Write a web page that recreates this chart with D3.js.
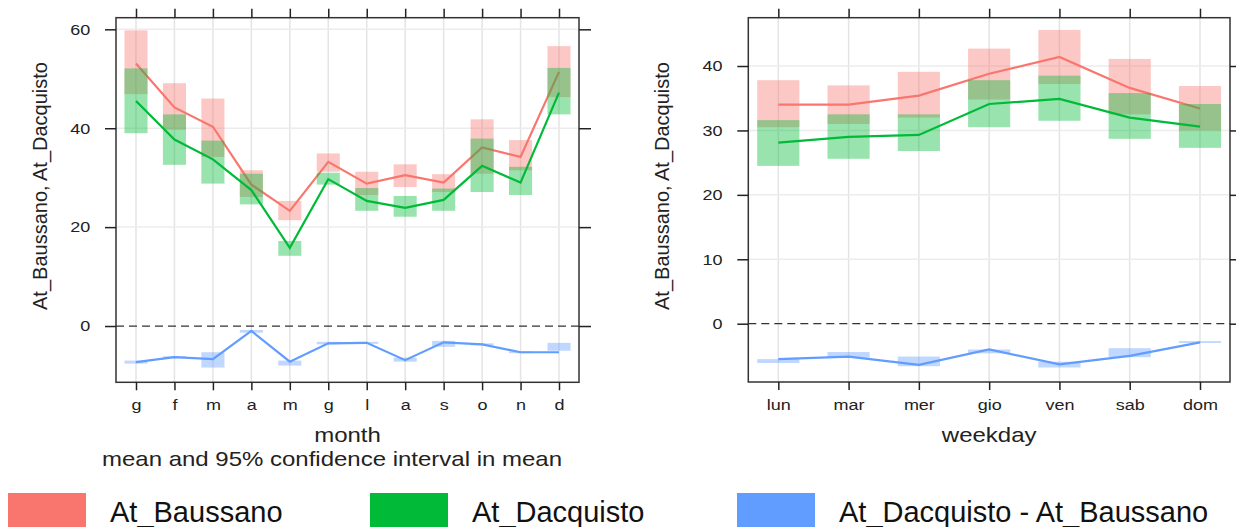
<!DOCTYPE html>
<html>
<head>
<meta charset="utf-8">
<script src="https://cdn.jsdelivr.net/npm/d3@7"></script>
<style>
  body { margin: 0; background: #fff; }
  svg { display: block; font-family: "Liberation Sans", Arial, sans-serif; }
</style>
</head>
<body>
<div id="chart"></div>
<script>
// month panel
const months = ["g", "f", "m", "a", "m", "g", "l", "a", "s", "o", "n", "d"];
const monthBaussano = [53.1, 44.2, 40.3, 28.6, 23.3, 33.2, 28.8, 30.5, 29.0, 36.1, 34.2, 51.4];
const monthBaussanoLo = [46.9, 39.7, 34.2, 26.1, 21.4, 31.2, 26.5, 28.1, 27.1, 30.8, 31.5, 46.3];
const monthBaussanoHi = [59.8, 49.1, 46.0, 31.5, 25.3, 34.9, 31.2, 32.7, 30.7, 41.8, 37.6, 56.6];
const monthDacquisto = [45.5, 37.7, 33.7, 27.5, 15.8, 29.7, 25.3, 23.9, 25.5, 32.4, 29.0, 47.2];
const monthDacquistoLo = [39.0, 32.6, 28.8, 24.6, 14.2, 28.6, 23.3, 22.1, 23.3, 27.1, 26.5, 42.8];
const monthDacquistoHi = [52.1, 42.8, 37.5, 30.8, 17.2, 31.0, 27.9, 26.3, 27.8, 37.9, 32.2, 52.2];
const monthDiff = [-7.3, -6.3, -6.7, -1.0, -7.2, -3.5, -3.4, -6.9, -3.3, -3.7, -5.3, -5.3];
const monthDiffLo = [-7.6, -6.5, -8.4, -1.35, -8.0, -3.7, -3.6, -7.2, -4.2, -3.9, -5.5, -5.0];
const monthDiffHi = [-7.0, -6.1, -5.3, -0.8, -7.0, -3.2, -3.2, -6.4, -3.0, -3.5, -5.1, -3.4];
const monthTicks = [0, 20, 40, 60];

// weekday panel
const weekdays = ["lun", "mar", "mer", "gio", "ven", "sab", "dom"];
const dayBaussano = [34.0, 34.0, 35.4, 38.8, 41.4, 36.6, 33.4];
const dayBaussanoLo = [30.5, 31.0, 32.0, 34.8, 37.2, 32.5, 30.0];
const dayBaussanoHi = [37.8, 37.0, 39.1, 42.7, 45.6, 41.1, 36.9];
const dayDacquisto = [28.1, 29.0, 29.3, 34.1, 34.9, 32.0, 30.6];
const dayDacquistoLo = [24.5, 25.6, 26.8, 30.5, 31.5, 28.7, 27.3];
const dayDacquistoHi = [31.6, 32.5, 32.5, 37.8, 38.5, 35.8, 34.1];
const dayDiff = [-5.5, -5.1, -6.4, -4.0, -6.3, -5.0, -2.9];
const dayDiffLo = [-6.1, -5.3, -6.6, -4.6, -6.8, -5.2, -3.0];
const dayDiffHi = [-5.5, -4.4, -5.1, -4.0, -5.9, -3.8, -2.7];
const dayTicks = [0, 10, 20, 30, 40];

const seriesNames = ["At_Baussano", "At_Dacquisto", "At_Dacquisto - At_Baussano"];
const seriesColors = ["#F8766D", "#00BA38", "#619CFF"];

const stretch = 1.2; // text in the picture is a bit wider than tall

const svg = d3.select("#chart").append("svg")
    .attr("width", 1236)
    .attr("height", 527);

function wideText(parent, x, y, size, str) {
    return parent.append("text")
        .attr("transform", `translate(${x},${y}) scale(${stretch},1)`)
        .attr("text-anchor", "middle")
        .style("font-size", size + "px")
        .attr("fill", "#222")
        .text(str);
}

function drawPanel(cfg) {
    const g = svg.append("g");
    const idx = d3.range(cfg.labels.length);

    const x = d3.scalePoint().domain(idx).range([cfg.left, cfg.right]).padding(cfg.pad);
    const y = d3.scaleLinear().domain(cfg.yDomain).range([cfg.bottom, cfg.top]);
    const bw = x.step() * 0.6;

    // grid
    g.selectAll(".vgrid").data(idx).join("line")
        .attr("x1", d => x(d)).attr("x2", d => x(d))
        .attr("y1", cfg.top).attr("y2", cfg.bottom)
        .attr("stroke", "#e4e4e4").attr("stroke-width", 1.5);
    g.selectAll(".hgrid").data(cfg.ticks.filter(t => t !== 0)).join("line")
        .attr("x1", cfg.left).attr("x2", cfg.right)
        .attr("y1", d => y(d)).attr("y2", d => y(d))
        .attr("stroke", "#ececec").attr("stroke-width", 1.5);

    // zero reference
    g.append("line")
        .attr("x1", cfg.left).attr("x2", cfg.right)
        .attr("y1", y(0)).attr("y2", y(0))
        .attr("stroke", "#333").attr("stroke-width", 1.3)
        .attr("stroke-dasharray", "8,5");

    const line = d3.line().x(d => x(d.i)).y(d => y(d.v));

    cfg.series.forEach((s, k) => {
        const rows = idx.map(i => ({ i: i, v: s.mean[i], lo: s.lo[i], hi: s.hi[i] }));
        g.append("g").selectAll("rect").data(rows).join("rect")
            .attr("x", d => x(d.i) - bw / 2)
            .attr("width", bw)
            .attr("y", d => y(d.hi))
            .attr("height", d => Math.max(1.5, y(d.lo) - y(d.hi)))
            .attr("fill", seriesColors[k])
            .attr("fill-opacity", 0.4);
        g.append("path").datum(rows)
            .attr("d", line)
            .attr("fill", "none")
            .attr("stroke", seriesColors[k])
            .attr("stroke-width", 2.2);
    });

    // frame
    g.append("rect")
        .attr("x", cfg.left).attr("y", cfg.top)
        .attr("width", cfg.right - cfg.left).attr("height", cfg.bottom - cfg.top)
        .attr("fill", "none").attr("stroke", "#333").attr("stroke-width", 1.5);

    // axes
    const fmtX = i => cfg.labels[i];
    const bottomAxis = g.append("g").attr("transform", `translate(0,${cfg.bottom})`)
        .call(d3.axisBottom(x).tickFormat(fmtX).tickSize(8).tickPadding(9));
    g.append("g").attr("transform", `translate(0,${cfg.top})`)
        .call(d3.axisTop(x).tickFormat("").tickSize(9));
    const leftAxis = g.append("g").attr("transform", `translate(${cfg.left},0)`)
        .call(d3.axisLeft(y).tickValues(cfg.ticks).tickSize(11).tickPadding(10.5));
    g.append("g").attr("transform", `translate(${cfg.right},0)`)
        .call(d3.axisRight(y).tickValues(cfg.ticks).tickFormat("").tickSize(12));

    g.selectAll(".domain").remove();
    g.selectAll(".tick line").attr("stroke", "#222").attr("stroke-width", 1.5);
    g.selectAll(".tick text").attr("fill", "#222").style("font-size", "15px")
        .attr("transform", `scale(${stretch},1)`);

    // titles
    wideText(g, (cfg.left + cfg.right) / 2, 442, 20, cfg.xTitle);
    g.append("text")
        .attr("transform", `translate(${cfg.yTitleX},186) rotate(-90)`)
        .attr("text-anchor", "middle")
        .style("font-size", "20px").attr("fill", "#222")
        .text("At_Baussano, At_Dacquisto");
}

drawPanel({
    labels: months, left: 116, right: 579, top: 17.7, bottom: 382.3, pad: 0.52,
    yDomain: [-11.38, 62.35], ticks: monthTicks, xTitle: "month", yTitleX: 47,
    series: [
        { mean: monthBaussano, lo: monthBaussanoLo, hi: monthBaussanoHi },
        { mean: monthDacquisto, lo: monthDacquistoLo, hi: monthDacquistoHi },
        { mean: monthDiff, lo: monthDiffLo, hi: monthDiffHi }
    ]
});

drawPanel({
    labels: weekdays, left: 748.3, right: 1230, top: 17.7, bottom: 382, pad: 0.427,
    yDomain: [-9.05, 47.5], ticks: dayTicks, xTitle: "weekday", yTitleX: 669,
    series: [
        { mean: dayBaussano, lo: dayBaussanoLo, hi: dayBaussanoHi },
        { mean: dayDacquisto, lo: dayDacquistoLo, hi: dayDacquistoHi },
        { mean: dayDiff, lo: dayDiffLo, hi: dayDiffHi }
    ]
});

// subtitle
wideText(svg, 332, 466, 20, "mean and 95% confidence interval in mean");

// legend
const legendX = [8, 370, 737];
const legend = svg.append("g");
legend.selectAll("rect").data(seriesNames).join("rect")
    .attr("x", (d, i) => legendX[i])
    .attr("y", 493)
    .attr("width", 78)
    .attr("height", 40)
    .attr("fill", (d, i) => seriesColors[i]);
legend.selectAll("text").data(seriesNames).join("text")
    .attr("x", (d, i) => legendX[i] + 102)
    .attr("y", 522)
    .style("font-size", "29px")
    .attr("fill", "#111")
    .text(d => d);
</script>
</body>
</html>
